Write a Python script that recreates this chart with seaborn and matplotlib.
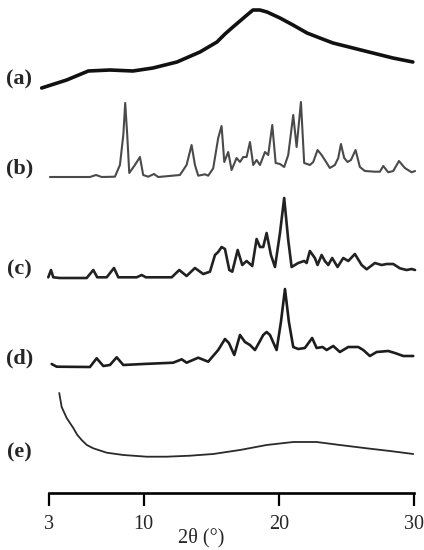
import numpy as np
import seaborn as sns
import matplotlib
matplotlib.use('Agg')
import matplotlib.pyplot as plt

# 2theta / relative intensity
tt_a = [2.46, 4.31, 5.91, 7.51, 9.21, 10.69, 12.47, 14.17, 15.43, 16.02, 16.61, 17.65, 18.09,
        18.60, 19.13, 20.09, 21.05, 22.09, 23.04, 24.01, 25.49, 26.96, 28.44, 29.92]
int_a = [0, 8, 17, 18, 17, 20, 26, 36, 46, 54, 61, 73, 78,
         78, 76, 70, 63, 55, 50, 45, 40, 35, 30, 26]

tt_b = [3.07, 6.03, 6.48, 6.90, 7.88, 8.25, 8.50, 8.64, 8.79, 8.94, 9.36, 9.73, 9.97,
        10.34, 10.77, 11.08, 12.69, 13.18, 13.55, 13.80, 14.04, 14.54, 14.78, 15.15,
        15.52, 15.77, 15.97, 16.26, 16.51, 16.88, 17.13, 17.37, 17.62, 17.87, 18.11,
        18.36, 18.61, 18.98, 19.22, 19.52, 19.77, 20.09, 20.40, 20.70, 21.07, 21.32,
        21.64, 21.88, 22.30, 22.55, 22.87, 23.17, 23.41, 23.78, 24.15, 24.40, 24.60,
        24.84, 25.09, 25.34, 25.68, 26.00, 26.37, 27.11, 27.48, 27.73, 28.10, 28.47,
        28.89, 29.33, 29.83, 30.08]
int_b = [0, 0, 2, 0, 0.3, 12, 42, 74, 42, 4, 12, 20, 2,
         0.3, 3, 0, 2, 12, 32, 12, 1.3, 2.7, 1.3, 8.7,
         39, 51, 15, 25, 7, 19, 15, 20, 20, 35, 12,
         17, 12, 25, 22, 52, 14, 13, 10, 22, 62, 30,
         75, 14, 12, 15, 27, 22, 17, 9, 12, 19, 33,
         19, 15, 17, 27, 10, 6, 5.3, 5.3, 11, 4.7, 6,
         16, 9, 4.7, 6]

tt_c = [2.95, 3.15, 3.32, 3.81, 5.79, 6.28, 6.57, 7.27, 7.81, 8.13, 9.49, 9.86, 10.17,
        12.08, 12.64, 13.18, 13.80, 14.41, 14.91, 15.28, 15.52, 15.77, 16.02, 16.34,
        16.56, 16.96, 17.30, 17.62, 18.04, 18.36, 18.61, 18.85, 19.10, 19.42, 19.72,
        20.09, 20.40, 20.70, 20.95, 21.44, 21.88, 22.06, 22.30, 22.67, 22.87, 23.17,
        23.41, 23.66, 23.95, 24.35, 24.77, 25.14, 25.63, 26.13, 26.50, 27.11, 27.61,
        27.98, 28.47, 28.96, 29.46, 29.83, 30.08]
int_c = [0.7, 8, 0.7, 0, 0, 8, 0.7, 0.7, 10, 0.7, 0.7, 3, 0.7,
         0.7, 8, 2, 10, 4, 6.3, 23, 26, 31, 29, 8,
         6.3, 28, 13, 17, 12, 39, 31, 31, 45, 23, 11,
         45, 80, 38, 11, 15, 17, 15, 27, 20, 13, 23,
         17, 13, 20, 11, 20, 17, 24, 13, 8.7, 15, 13,
         14, 14, 9.7, 8, 9, 8]

tt_d = [3.20, 3.57, 6.03, 6.53, 7.02, 7.51, 8.01, 8.50, 9.97, 12.19, 12.82, 13.18,
        14.04, 14.78, 15.52, 16.02, 16.31, 16.71, 17.13, 17.50, 17.87, 18.24, 18.61,
        18.85, 19.10, 19.35, 19.84, 20.16, 20.46, 20.75, 21.07, 21.44, 21.93, 22.47,
        22.80, 23.24, 23.54, 24.03, 24.52, 25.14, 25.88, 26.25, 26.74, 27.24, 28.10,
        28.59, 29.21, 29.95]
int_d = [3, 0.3, 0, 8.7, 1, 2, 9.7, 2, 3, 4.3, 7.7, 4.3,
         9.3, 5.3, 17, 28, 24, 12, 32, 25, 22, 17, 26,
         32, 35, 32, 17, 45, 78, 45, 20, 18, 19, 29,
         19, 20, 17, 21, 15, 20, 20, 17, 11, 15, 16,
         14, 11, 11]

tt_e = [3.76, 3.94, 4.31, 4.80, 5.10, 5.42, 5.80, 6.28, 7.27, 8.50, 10.23, 11.71, 13.43,
        15.15, 17.13, 19.10, 21.07, 22.80, 24.52, 26.50, 28.22, 29.95]
int_e = [64, 50, 39, 29, 22, 17, 12, 8.7, 4.3, 2, 0.3, 0.3, 1.3,
         3, 7, 12, 15, 15, 12, 8.7, 6, 3]

labels = ['(a)', '(b)', '(c)', '(d)', '(e)']
ticks = [3, 10, 20, 30]

# stacking offsets (vertical layout) and line styles
offsets = {'(a)': 405, '(b)': 316, '(c)': 215, '(d)': 126, '(e)': 36}
styles = {'(a)': ('#111111', 2.6), '(b)': ('#4a4a4a', 1.5), '(c)': ('#222222', 1.9),
          '(d)': ('#1c1c1c', 1.9), '(e)': ('#2a2a2a', 1.3)}
data = {'(a)': (tt_a, int_a), '(b)': (tt_b, int_b), '(c)': (tt_c, int_c),
        '(d)': (tt_d, int_d), '(e)': (tt_e, int_e)}

sns.set_style('white')
plt.rcParams['font.family'] = ['Liberation Serif', 'DejaVu Serif']

fig = plt.figure(figsize=(4.24, 5.5), dpi=100)
ax = fig.add_axes([39.5 / 424, 57 / 550, 378.5 / 424, 493 / 550])

for lab in labels:
    x, y = data[lab]
    color, lw = styles[lab]
    sns.lineplot(x=x, y=np.array(y) + offsets[lab], ax=ax, color=color, lw=lw,
                 estimator=None, sort=False)
    ax.text(0.8, offsets[lab] + (9 if lab != '(e)' else 5), lab, ha='center', va='center',
            fontsize=16, fontweight='bold', clip_on=False)

ax.set_xlim(2.3, 30.3)
ax.set_ylim(0, 493)
ax.set_yticks([])
ax.set_xticks(ticks)
ax.set_xticklabels([str(t) for t in ticks])
sns.despine(ax=ax, left=True)
ax.spines['bottom'].set_bounds(3, 30)
ax.spines['bottom'].set_linewidth(1.9)
ax.spines['bottom'].set_color('black')
ax.tick_params(axis='x', direction='out', length=9, width=1.6, color='black',
               labelsize=14.5, pad=7, bottom=True)

ax.set_xlabel('2θ (°)', fontsize=14.5)
ax.xaxis.set_label_coords(0.427, -0.091)
ax.xaxis.label.set_va('center')

fig.savefig('out.png', dpi=100)
